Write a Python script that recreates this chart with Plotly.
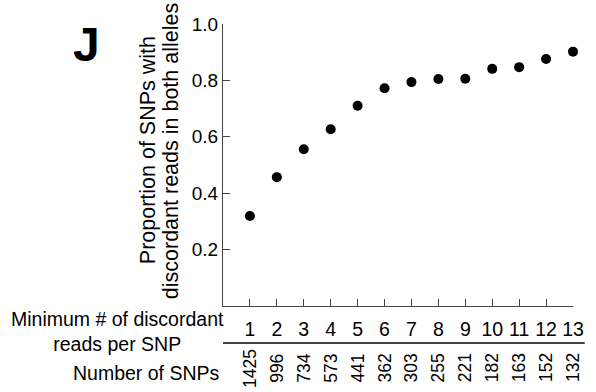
import plotly.graph_objects as go

min_reads = list(range(1, 14))
proportion = [0.319, 0.457, 0.556, 0.627, 0.710, 0.772, 0.794, 0.805, 0.806, 0.841, 0.847, 0.876, 0.902]
num_snps = [1425, 996, 734, 573, 441, 362, 303, 255, 221, 182, 163, 152, 132]
y_ticks = [0.2, 0.4, 0.6, 0.8, 1.0]
y_ticktext = ["0.2", "0.4", "0.6", "0.8", "1.0"]

FONT = "Liberation Sans, Arial, sans-serif"
L, R, T, B = 223, 15, 24, 86
W, H = 596, 392
pw = W - L - R
ph = H - T - B

def px_to_paper_x(px):
    return (px - L) / pw

def px_to_paper_y(py):
    return (H - B - py) / ph

fig = go.Figure()
fig.add_trace(go.Scatter(
    x=min_reads, y=proportion, mode="markers",
    marker=dict(color="black", size=10),
    cliponaxis=False, showlegend=False, hoverinfo="skip"))

fig.update_xaxes(
    range=[0, 13], tickmode="array", tickvals=min_reads,
    ticktext=[str(v) for v in min_reads],
    ticks="inside", ticklen=7, tickwidth=1.2, tickcolor="#444",
    showline=True, linecolor="#444", linewidth=1.3,
    showgrid=False, zeroline=False,
    tickfont=dict(family=FONT, size=19.5, color="black"),
    ticklabelstandoff=5)
fig.update_yaxes(
    range=[0, 1.0], tickmode="array", tickvals=y_ticks, ticktext=y_ticktext,
    ticks="inside", ticklen=7, tickwidth=1.2, tickcolor="#444",
    showline=True, linecolor="#444", linewidth=1.3,
    showgrid=False, zeroline=False,
    tickfont=dict(family=FONT, size=19, color="black"))

annotations = []
# SNP counts (rotated)
for xv, n in zip(min_reads, num_snps):
    annotations.append(dict(
        x=xv, xref="x", y=px_to_paper_y(368), yref="paper",
        text=str(n), textangle=-90, showarrow=False,
        xanchor="center", yanchor="middle",
        font=dict(family=FONT, size=17.5, color="black")))

annotations.append(dict(
    x=px_to_paper_x(115), xref="paper", y=px_to_paper_y(331), yref="paper",
    text="Minimum # of discordant<br>reads per SNP", showarrow=False,
    xanchor="center", yanchor="middle", align="center",
    font=dict(family=FONT, size=19.5, color="black")))
annotations.append(dict(
    x=px_to_paper_x(222), xref="paper", y=px_to_paper_y(373), yref="paper",
    text="Number of SNPs", showarrow=False,
    xanchor="right", yanchor="middle",
    font=dict(family=FONT, size=19.5, color="black")))
# Y-axis title (two lines)
annotations.append(dict(
    x=px_to_paper_x(146.5), xref="paper", y=px_to_paper_y(150), yref="paper",
    text="Proportion of SNPs with", textangle=-90, showarrow=False,
    xanchor="center", yanchor="middle",
    font=dict(family=FONT, size=21.5, color="black")))
annotations.append(dict(
    x=px_to_paper_x(170), xref="paper", y=px_to_paper_y(151), yref="paper",
    text="discordant reads in both alleles", textangle=-90, showarrow=False,
    xanchor="center", yanchor="middle",
    font=dict(family=FONT, size=21.5, color="black")))
# Panel label
annotations.append(dict(
    x=px_to_paper_x(83), xref="paper", y=px_to_paper_y(44), yref="paper",
    text="<b>J</b>", showarrow=False, xanchor="center", yanchor="middle",
    font=dict(family=FONT, size=48, color="black")))

fig.update_layout(
    width=W, height=H, margin=dict(l=L, r=R, t=T, b=B),
    plot_bgcolor="white", paper_bgcolor="white",
    annotations=annotations,
    shapes=[dict(type="line", xref="paper", yref="paper",
                 x0=0, x1=px_to_paper_x(593),
                 y0=px_to_paper_y(343), y1=px_to_paper_y(343),
                 line=dict(color="black", width=1.3))])

fig.write_html("out.html")
